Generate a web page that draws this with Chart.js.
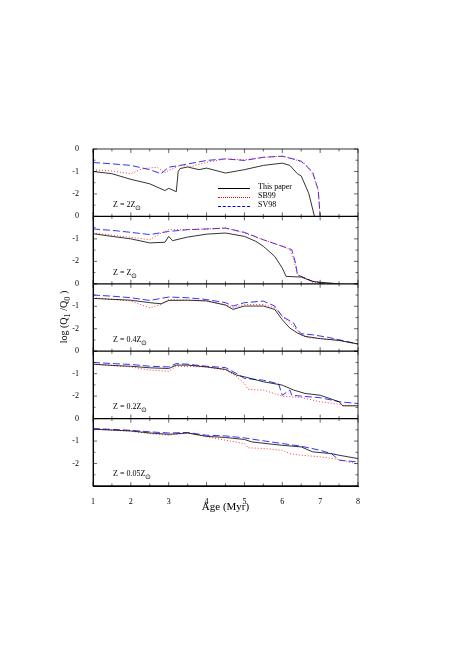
<!DOCTYPE html>
<html>
<head>
<meta charset="UTF-8">
<title>Q1/Q0</title>
<script src="https://cdn.jsdelivr.net/npm/chart.js"></script>
<style>
  body { margin: 0; background: #fff; }
  #wrap { position: relative; width: 452px; height: 658px; font-family: "Liberation Serif", serif; }
  .lab { position: absolute; font-size: 8px; color: #000; }
  .leg { position: absolute; font-size: 8px; left: 258px; }
  .sw { position: absolute; left: 218px; width: 32px; height: 0; }
</style>
</head>
<body>
<div id="wrap">
  <canvas id="c" width="452" height="658"></canvas>
  <div class="lab" style="left:113px;top:200px">Z = 2Z<sub>⊙</sub></div>
  <div class="lab" style="left:113px;top:268px">Z = Z<sub>⊙</sub></div>
  <div class="lab" style="left:113px;top:335px">Z = 0.4Z<sub>⊙</sub></div>
  <div class="lab" style="left:113px;top:402px">Z = 0.2Z<sub>⊙</sub></div>
  <div class="lab" style="left:113px;top:469px">Z = 0.05Z<sub>⊙</sub></div>
  <div class="sw" style="top:188px;border-top:1px solid #000"></div>
  <div class="sw" style="top:197px;border-top:1px dotted #f00"></div>
  <div class="sw" style="top:206px;border-top:1px dashed #00f"></div>
  <div class="leg" style="top:182px">This paper</div>
  <div class="leg" style="top:191px">SB99</div>
  <div class="leg" style="top:200px">SV98</div>
  <div class="lab" style="left:20px;top:310px;width:90px;text-align:center;font-size:10px;transform:rotate(-90deg)">log (Q<sub>1</sub> /Q<sub>0</sub> )</div>
</div>
<script>
// Each panel: [age, log value] pairs for this paper, SB99, SV98
var panelNames = ['2Z', 'Z', '0.4Z', '0.2Z', '0.05Z'];

var p1Black = [[1,-1.0],[1.5,-1.1],[2,-1.35],[2.5,-1.55],[2.9,-1.85],[3.0,-1.75],[3.2,-1.9],[3.25,-1.0],[3.3,-0.87],[3.5,-0.8],[3.8,-0.92],[4,-0.85],[4.5,-1.07],[5,-0.92],[5.5,-0.73],[6,-0.63],[6.2,-0.73],[6.4,-1.1],[6.5,-1.2],[6.7,-1.98],[6.85,-3]];
var p1Red = [[1,-0.92],[1.5,-0.98],[2,-1.1],[2.3,-0.88],[2.7,-0.81],[2.9,-1.07],[3.0,-0.95],[3.3,-0.73],[3.6,-0.78],[4,-0.59],[4.5,-0.44],[5,-0.48],[5.5,-0.37],[6,-0.32],[6.3,-0.44],[6.6,-0.66],[6.8,-1.1],[6.95,-1.83],[7.0,-3]];
var p1Blue = [[1,-0.6],[1.5,-0.66],[2,-0.73],[2.5,-0.92],[2.8,-1.1],[3,-0.81],[3.3,-0.73],[4,-0.51],[4.5,-0.44],[5,-0.51],[5.5,-0.37],[6,-0.32],[6.5,-0.54],[6.8,-1.02],[6.95,-1.83],[7.0,-3]];

var p2Black = [[1,-0.77],[1.5,-0.89],[2,-1.0],[2.5,-1.18],[2.9,-1.15],[3.0,-0.89],[3.1,-1.08],[3.5,-0.92],[4,-0.79],[4.5,-0.74],[5,-0.89],[5.3,-1.11],[5.5,-1.33],[5.8,-1.78],[6,-2.3],[6.1,-2.67],[6.5,-2.7],[6.8,-2.89],[7.0,-2.93],[7.5,-3]];
var p2Red = [[1,-0.74],[2,-0.93],[2.5,-1.04],[2.8,-0.74],[3,-0.59],[3.5,-0.59],[4,-0.56],[4.5,-0.52],[5,-0.74],[5.5,-1.04],[6,-1.33],[6.2,-1.48],[6.3,-1.93],[6.4,-2.6],[6.5,-2.67],[6.8,-2.93],[7.0,-2.96],[7.3,-3]];
var p2Blue = [[1,-0.56],[1.5,-0.62],[2,-0.71],[2.5,-0.81],[3,-0.67],[3.5,-0.59],[4,-0.56],[4.5,-0.52],[5,-0.71],[5.5,-1.04],[6,-1.33],[6.25,-1.48],[6.35,-2.07],[6.4,-2.6],[6.6,-2.74],[6.8,-2.89],[7,-2.96],[7.3,-3]];

var p3Black = [[1,-0.65],[2,-0.73],[2.5,-0.84],[2.8,-0.89],[3,-0.74],[3.5,-0.73],[4,-0.76],[4.5,-0.95],[4.7,-1.14],[5,-0.99],[5.5,-0.99],[5.8,-1.14],[6,-1.6],[6.2,-1.97],[6.4,-2.19],[6.6,-2.34],[7,-2.44],[7.5,-2.52],[8,-2.68]];
var p3Red = [[1,-0.62],[2,-0.77],[2.5,-1.07],[2.8,-0.92],[3,-0.7],[4,-0.77],[4.5,-0.92],[4.7,-1.07],[5,-0.92],[5.5,-0.92],[5.8,-1.07],[6,-1.45],[6.3,-1.9],[6.5,-2.27],[6.7,-2.41],[7,-2.44],[7.5,-2.52],[8,-2.68]];
var p3Blue = [[1,-0.5],[1.5,-0.55],[2,-0.62],[2.5,-0.74],[3,-0.59],[3.5,-0.62],[4,-0.7],[4.5,-0.84],[4.7,-0.99],[5,-0.84],[5.5,-0.77],[5.8,-0.99],[6,-1.45],[6.3,-1.75],[6.4,-2.05],[6.5,-2.22],[6.8,-2.27],[7.2,-2.38],[7.5,-2.49],[8,-2.68]];

var p4Black = [[1,-0.58],[1.7,-0.65],[2,-0.67],[2.5,-0.74],[3,-0.77],[3.2,-0.62],[3.5,-0.62],[4,-0.7],[4.5,-0.81],[4.8,-1.07],[5,-1.14],[5.5,-1.36],[6,-1.51],[6.3,-1.73],[6.6,-1.88],[7,-1.96],[7.5,-2.25],[7.6,-2.43],[8,-2.43]];
var p4Red = [[1,-0.58],[2,-0.7],[2.5,-0.84],[3,-0.89],[3.2,-0.67],[4,-0.7],[4.5,-0.84],[4.8,-1.14],[5,-1.44],[5.1,-1.7],[5.5,-1.73],[6,-2.0],[6.5,-2.06],[7,-2.25],[7.5,-2.36],[7.6,-2.43],[8,-2.43]];
var p4Blue = [[1,-0.5],[1.5,-0.55],[2,-0.59],[2.5,-0.67],[3,-0.7],[3.2,-0.55],[3.5,-0.58],[4,-0.67],[4.5,-0.73],[4.8,-1.0],[5,-1.21],[5.5,-1.29],[5.8,-1.41],[5.9,-1.44],[6.0,-1.96],[6.2,-1.73],[6.25,-1.96],[6.5,-2.0],[7,-2.07],[7.4,-2.21],[7.5,-2.25],[8,-2.33]];

var p5Black = [[1,-0.47],[2,-0.55],[2.5,-0.64],[3,-0.7],[3.5,-0.64],[4,-0.79],[4.5,-0.84],[5,-0.93],[5.2,-1.04],[6,-1.19],[6.5,-1.26],[6.8,-1.48],[7.3,-1.56],[7.5,-1.63],[8,-1.78]];
var p5Red = [[1,-0.47],[2,-0.56],[2.5,-0.67],[3,-0.74],[3.5,-0.64],[4,-0.81],[4.5,-0.96],[5,-1.11],[5.1,-1.3],[5.5,-1.33],[6,-1.41],[6.2,-1.56],[6.5,-1.63],[7,-1.7],[7.5,-1.82],[8,-2.03]];
var p5Blue = [[1,-0.44],[2,-0.52],[2.5,-0.59],[3,-0.64],[3.5,-0.62],[4,-0.74],[4.5,-0.77],[5,-0.86],[5.5,-0.99],[6,-1.11],[6.5,-1.23],[7,-1.41],[7.3,-1.56],[7.5,-1.85],[8,-1.93]];

var xTicks = [1, 2, 3, 4, 5, 6, 7, 8];
var yTicks = [0, -1, -2];

var panels = [
  [p1Black, p1Red, p1Blue],
  [p2Black, p2Red, p2Blue],
  [p3Black, p3Red, p3Blue],
  [p4Black, p4Red, p4Blue],
  [p5Black, p5Red, p5Blue]
];

function pts(arr) {
  return arr.map(function (p) { return { x: p[0], y: p[1] }; });
}

var styles = [
  { borderColor: '#000', borderWidth: 0.8, borderDash: [] },
  { borderColor: '#f00', borderWidth: 0.8, borderDash: [1, 2] },
  { borderColor: '#00f', borderWidth: 0.8, borderDash: [7, 3] }
];

var datasets = [];
var scales = {
  x: {
    type: 'linear', min: 1, max: 8,
    afterBuildTicks: function (s) { s.ticks = xTicks.map(function (v) { return { value: v }; }); },
    grid: { display: false },
    border: { color: '#000' },
    ticks: { color: '#000', font: { family: 'Liberation Serif', size: 8 }, padding: 3 },
    title: { display: true, text: 'Age (Myr)', color: '#000', font: { family: 'Liberation Serif', size: 11 }, padding: 0 },
    afterFit: function (s) { s.height = 28; }
  }
};

// bottom panel first: stacked axes fill from the bottom up
for (var k = panels.length - 1; k >= 0; k--) {
  var id = 'y' + k;
  scales[id] = {
    type: 'linear', min: -3, max: 0, stack: 'panels', stackWeight: 1, position: 'left',
    afterBuildTicks: function (s) { s.ticks = yTicks.map(function (v) { return { value: v }; }); },
    grid: { display: false },
    border: { color: '#000', width: 1 },
    ticks: { color: '#000', font: { family: 'Liberation Serif', size: 8 }, padding: 6 },
    afterFit: function (s) { s.width = 22; }
  };
  for (var j = 0; j < 3; j++) {
    datasets.push(Object.assign({
      data: pts(panels[k][j]), yAxisID: id, pointRadius: 0, tension: 0, fill: false
    }, styles[j]));
  }
}

// frame lines and inward ticks
var framePlugin = {
  id: 'frame',
  afterDraw: function (chart) {
    var ctx = chart.ctx, a = chart.chartArea, xs = chart.scales.x;
    ctx.save();
    ctx.strokeStyle = '#000';
    ctx.lineWidth = 0.8;
    ctx.strokeRect(a.left, a.top, a.right - a.left, a.bottom - a.top);
    for (var k = 0; k < panels.length; k++) {
      var ys = chart.scales['y' + k];
      ctx.lineWidth = 1.2;
      ctx.beginPath(); ctx.moveTo(a.left, ys.bottom); ctx.lineTo(a.right, ys.bottom); ctx.stroke();
      ctx.lineWidth = 0.6;
      for (var v = 1; v <= 8.001; v += 0.5) {
        var px = xs.getPixelForValue(v), len = (v % 1 === 0) ? 4 : 2.5;
        ctx.beginPath();
        ctx.moveTo(px, ys.top); ctx.lineTo(px, ys.top + len);
        ctx.moveTo(px, ys.bottom); ctx.lineTo(px, ys.bottom - len);
        ctx.stroke();
      }
      for (var w = 0; w >= -3; w -= 0.5) {
        var py = ys.getPixelForValue(w), l2 = (w % 1 === 0) ? 4 : 2.5;
        ctx.beginPath();
        ctx.moveTo(a.left, py); ctx.lineTo(a.left + l2, py);
        ctx.moveTo(a.right, py); ctx.lineTo(a.right - l2, py);
        ctx.stroke();
      }
    }
    ctx.restore();
  }
};

new Chart(document.getElementById('c'), {
  type: 'line',
  data: { datasets: datasets },
  options: {
    responsive: false,
    animation: false,
    layout: { padding: { left: 71, right: 94, top: 149, bottom: 144 } },
    plugins: { legend: { display: false }, tooltip: { enabled: false } },
    scales: scales
  },
  plugins: [framePlugin]
});
</script>
</body>
</html>
